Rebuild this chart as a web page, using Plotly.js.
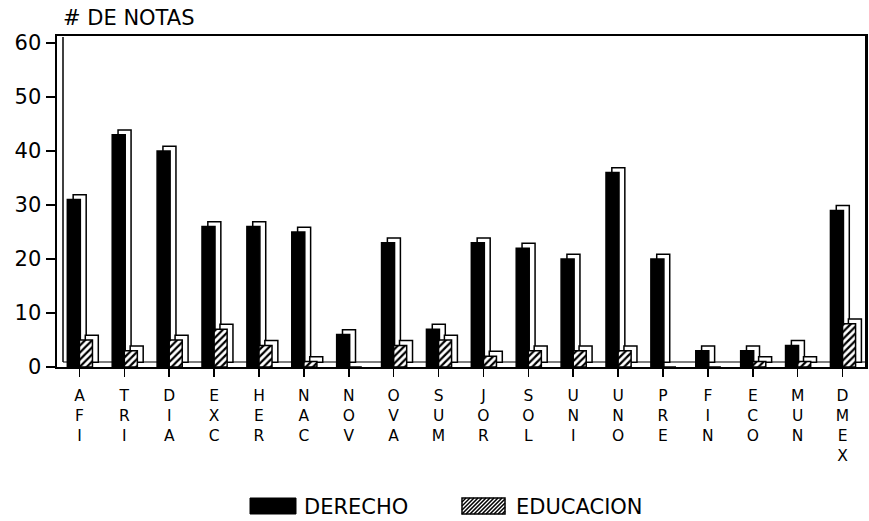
<!DOCTYPE html>
<html>
<head>
<meta charset="utf-8">
<script src="https://cdn.plot.ly/plotly-3.0.1.min.js"></script>
<style>html,body{margin:0;padding:0;background:#fff;}#chart{width:869px;height:521px;}</style>
</head>
<body>
<div id="chart"></div>
<script>
const categories = ["AFI","TRI","DIA","EXC","HER","NAC","NOV","OVA","SUM","JOR","SOL","UNI","UNO","PRE","FIN","ECO","MUN","DMEX"];
const derecho = [31, 43, 40, 26, 26, 25, 6, 23, 7, 23, 22, 20, 36, 20, 3, 3, 4, 29];
const educacion = [5, 3, 5, 7, 4, 1, 0, 4, 5, 2, 3, 3, 3, 0, 0, 1, 1, 8];
const seriesNames = ["DERECHO", "EDUCACION"];
const yTicks = [0, 10, 20, 30, 40, 50, 60];
const tickLabels = categories.map(c => c.split("").join("<br>"));

const FONT = "DejaVu Sans, Liberation Sans, Arial, sans-serif";
const idx = categories.map((c, i) => i);

function depthTrace(vals, off) {
  return {
    type: "bar", x: idx, y: vals.map(v => v > 0 ? v : null), base: 0.9,
    offset: off + 0.13, width: 0.29,
    marker: {color: "#ffffff", line: {color: "#000", width: 1.5}},
    showlegend: false, hoverinfo: "skip"
  };
}

const traces = [
  depthTrace(derecho, -0.27),
  {
    type: "bar", name: seriesNames[0], x: idx, y: derecho,
    offset: -0.27, width: 0.29, showlegend: false,
    marker: {color: "#000000", line: {color: "#000", width: 1.5}}
  },
  depthTrace(educacion, 0.0),
  {
    type: "bar", name: seriesNames[1], x: idx, y: educacion,
    offset: 0.0, width: 0.29, showlegend: false,
    marker: {color: "#ffffff", line: {color: "#000", width: 1.5},
      pattern: {shape: "/", fgcolor: "#000", bgcolor: "#fff", size: 5, solidity: 0.45}}
  }
];

// legend and frame decorations (pixel placement converted to paper coords)
const W = 869, H = 521, L = 57, R = 4, T = 36, B = 154;
const pw = W - L - R, ph = H - T - B;
const px = x => (x - L) / pw;
const py = y => (H - B - y) / ph;

const shapes = [
  // inner wall and floor lines of the 3D frame
  {type: "line", layer: "below", xref: "paper", yref: "paper", x0: px(63), x1: px(63), y0: py(362), y1: py(37),
   line: {color: "#000", width: 1.5}},
  {type: "line", layer: "below", xref: "paper", yref: "paper", x0: px(63), x1: px(865), y0: py(362), y1: py(362),
   line: {color: "#000", width: 1.2}},
  // legend swatches
  {type: "rect", xref: "paper", yref: "paper", x0: px(250), x1: px(296), y0: py(514), y1: py(498),
   fillcolor: "#000", line: {color: "#000", width: 1}},
  {type: "rect", xref: "paper", yref: "paper", x0: px(462), x1: px(505), y0: py(514), y1: py(498),
   fillcolor: "#fff", line: {color: "#000", width: 1.5}}
];
for (let k = -16; k <= 40; k += 4) {
  let xa = 462 + k, ya = 514, xb = xa + 16, yb = 498;
  if (xa < 462) { ya = 514 - (462 - xa); xa = 462; }
  if (xb > 505) { yb = 498 + (xb - 505); xb = 505; }
  if (xa >= xb) continue;
  shapes.push({type: "line", xref: "paper", yref: "paper", x0: px(xa), y0: py(ya), x1: px(xb), y1: py(yb),
    line: {color: "#000", width: 1.5}});
}

const annotations = [
  {text: seriesNames[0], xref: "paper", yref: "paper", x: px(302), y: py(507), xanchor: "left", yanchor: "middle",
   showarrow: false, font: {family: FONT, size: 21, color: "#000"}},
  {text: seriesNames[1], xref: "paper", yref: "paper", x: px(514), y: py(507), xanchor: "left", yanchor: "middle",
   showarrow: false, font: {family: FONT, size: 21, color: "#000"}}
];

const layout = {
  width: W, height: H,
  margin: {l: L, r: R, t: T, b: B},
  paper_bgcolor: "#fff", plot_bgcolor: "#fff",
  barmode: "overlay",
  showlegend: false,
  shapes: shapes,
  annotations: annotations,
  title: {text: "# DE NOTAS", x: 63/869, xanchor: "left", xref: "container",
          y: 1 - 18/521, yanchor: "middle", yref: "container",
          font: {family: FONT, size: 21, color: "#000"}},
  xaxis: {
    range: [-0.5, 17.5], tickmode: "array", tickvals: idx, ticktext: tickLabels,
    ticks: "outside", ticklen: 8, tickwidth: 1.5, tickcolor: "#000",
    showline: true, linecolor: "#000", linewidth: 2, mirror: true,
    showgrid: false, zeroline: false, tickangle: 0, ticklabelstandoff: 5,
    tickfont: {family: FONT, size: 15.5, color: "#000"}, fixedrange: true
  },
  yaxis: {
    range: [0, 61.3], tickmode: "array", tickvals: yTicks,
    ticks: "outside", ticklen: 9, tickwidth: 1.5, tickcolor: "#000",
    showline: true, linecolor: "#000", linewidth: 2.5, mirror: true,
    showgrid: false, zeroline: false,
    tickfont: {family: FONT, size: 21, color: "#000"}, fixedrange: true
  }
};

Plotly.newPlot("chart", traces, layout, {displayModeBar: false, staticPlot: true});
</script>
</body>
</html>
